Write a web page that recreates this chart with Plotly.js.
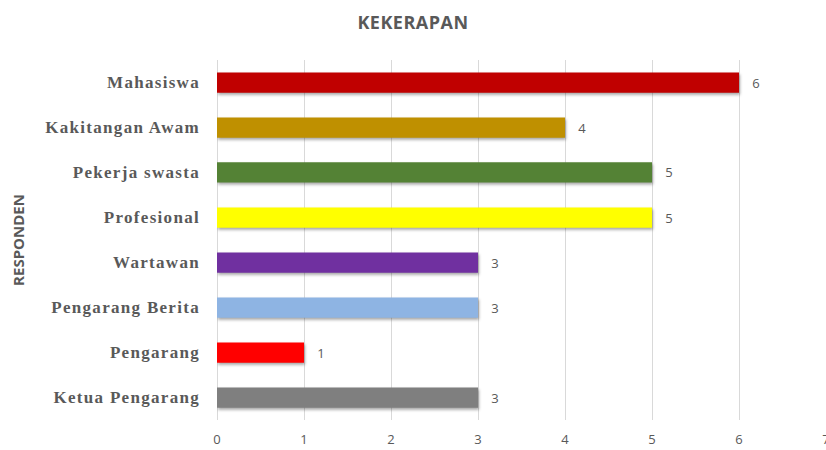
<!DOCTYPE html>
<html>
<head>
<meta charset="utf-8">
<script src="https://cdn.plot.ly/plotly-3.0.1.min.js"></script>
<style>
html,body{margin:0;padding:0;background:#fff;}
#chart{width:826px;height:450px;}
#chart .ytick text{letter-spacing:1.3px;}
#chart .gtitle{letter-spacing:0.5px;}
#chart .bars .point path{filter:drop-shadow(1px 2px 1.5px rgba(0,0,0,0.35));}
</style>
</head>
<body>
<div id="chart"></div>
<script>
const categories = ["Ketua Pengarang","Pengarang","Pengarang Berita","Wartawan","Profesional","Pekerja swasta","Kakitangan Awam","Mahasiswa"];
const values = [3, 1, 3, 3, 5, 5, 4, 6];
const colors = ["#7F7F7F","#FF0000","#8EB4E3","#7030A0","#FFFF00","#548235","#BF9000","#C00000"];
const xTicks = [0,1,2,3,4,5,6,7];

const pad = "\u00a0\u00a0\u00a0";
const trace = {
  type: "bar",
  orientation: "h",
  y: categories,
  x: values,
  marker: {color: colors, line: {width: 0}},
  text: values.map(v => pad + String(v)),
  textposition: "outside",
  textfont: {family: "Open Sans", size: 13, color: "#595959"},
  cliponaxis: false,
  hoverinfo: "none"
};

const layout = {
  width: 826, height: 450,
  margin: {l: 217, r: 0, t: 60, b: 30},
  paper_bgcolor: "#fff", plot_bgcolor: "#fff",
  bargap: 0.55,
  showlegend: false,
  title: {text: "<b>KEKERAPAN</b>", x: 0.5, xanchor: "center", y: 0.95, yanchor: "middle",
          font: {family: "Open Sans", size: 18, color: "#595959"}},
  xaxis: {
    range: [0, 7], tickvals: xTicks, ticktext: xTicks.map(String),
    showgrid: true, gridcolor: "#D9D9D9", gridwidth: 1,
    zeroline: true, zerolinecolor: "#D9D9D9",
    showline: false, ticks: "",
    ticklabelstandoff: 10,
    ticklabeloverflow: "allow",
    tickfont: {family: "Open Sans", size: 13, color: "#595959"},
    fixedrange: true
  },
  yaxis: {
    categoryorder: "array", categoryarray: categories,
    showgrid: false, zeroline: false, showline: false, ticks: "",
    ticklabelstandoff: 16,
    tickfont: {family: "Liberation Serif", size: 17, color: "#595959", weight: "bold"},
    title: {text: "<b>RESPONDEN</b>", standoff: 36, font: {family: "Open Sans", size: 15, color: "#595959"}},
    fixedrange: true
  }
};

Plotly.newPlot("chart", [trace], layout, {displayModeBar: false, staticPlot: true});
</script>
</body>
</html>
